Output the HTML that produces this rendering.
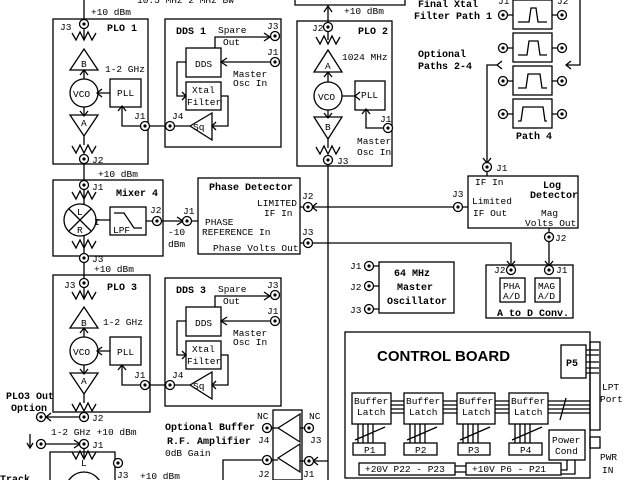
<!DOCTYPE html>
<html><head><meta charset="utf-8"><style>
html,body{margin:0;padding:0;background:#fff;width:640px;height:480px;overflow:hidden;}
svg{display:block;overflow:hidden;}
text{font-family:"Liberation Mono",monospace;font-size:9.5px;fill:#000;}
.b{font-weight:bold;font-size:10px;}
</style></head><body>
<svg width="640" height="480" viewBox="0 0 640 480" xmlns="http://www.w3.org/2000/svg">
<defs>
<g id="cn"><circle r="4.5" fill="#fff" stroke="#000" stroke-width="1.3"/><circle r="1.6" fill="#000"/></g>
<polyline id="zz" points="-12,-3 -8,4 -4,-4 0,4 4,-4 8,4 12,-3" fill="none" stroke="#000" stroke-width="1.3"/>
</defs>
<g fill="none" stroke="#000" stroke-width="1.3">
<path d="M295,0 V5 H405 V0"/>
<rect x="53" y="19" width="95" height="145"/>
<path d="M84,0 V20 M84,28 V40 M70,70 L84,49 L98,70 Z M84,70 V79 M84,107 V115 M70,115 L98,115 L84,136 Z M84,136 V145 M84,163 V181"/>
<circle cx="84" cy="93" r="14"/>
<rect x="110" y="79" width="31" height="28"/>
<path d="M110,93 H98 M122,107 V126 H141 M149,126 H166"/>
<rect x="165" y="19" width="116" height="128"/>
<rect x="186" y="48" width="35" height="29"/>
<rect x="186" y="82" width="35" height="28"/>
<path d="M190,126 L212,113 L212,140 Z M174,126 H190 M215,48 V37 H270 M271,62 H221 M186,62 H177 V96 H186 M221,96 H228 V126 H212"/>
<rect x="297" y="21" width="95" height="145"/>
<path d="M328,5 V23 M328,31 V40 M314,72 L328,50 L342,72 Z M328,72 V82 M328,110 V117 M314,117 L342,117 L328,139 Z M328,139 V148 M328,164 V480"/>
<circle cx="328" cy="96" r="14"/>
<rect x="355" y="81" width="30" height="29"/>
<path d="M355,96 H342 M366,110 V128 H384"/>
<rect x="513" y="0" width="39" height="29"/><rect x="513" y="33" width="39" height="29"/>
<rect x="513" y="66" width="39" height="29"/><rect x="513" y="99" width="39" height="29"/>
<path d="M518,22 H529 L531,8 H536 L538,22 H547 M518,55 H527 L529,41 H538 L540,55 H547 M518,88 H526 L528,74 H540 L542,88 H547 M518,121 H521 L523,107 H543 L545,121 H547"/>
<path d="M507,15 H513 M552,15 H558 M507,48 H513 M552,48 H558 M507,81 H513 M552,81 H558 M507,114 H513 M552,114 H558"/>
<path d="M580,0 V65 H566 M487,163 V65 H498"/>
<rect x="468" y="176" width="110" height="52"/>
<path d="M487,171 V176 M312,207 H453 M462,207 H468 M549,228 V233 M549,241 V266 M312,243 H511 V266"/>
<rect x="198" y="178" width="102" height="76"/>
<path d="M300,207 H304 M300,243 H304 M191,221 H198"/>
<rect x="53" y="180" width="110" height="76"/>
<circle cx="80" cy="220" r="16"/>
<path d="M69,209 L91,231 M91,209 L69,231 M96,220 H110 M146,221 H153 M161,221 H183 M84,190 V204 M84,236 V254 M84,262 V279"/>
<rect x="110" y="207" width="36" height="28"/>
<path d="M114,213 H124 L134,228 H142"/>
<rect x="53" y="275" width="97" height="137"/>
<path d="M84,287 V298 M70,328 L84,307 L98,328 Z M84,328 V337 M84,365 V373 M70,373 L98,373 L84,394 Z M84,394 V403 M80,417 H46"/>
<circle cx="84" cy="351" r="14"/>
<rect x="110" y="337" width="31" height="28"/>
<path d="M110,351 H98 M122,365 V385 H141 M149,385 H166"/>
<rect x="165" y="278" width="116" height="128"/>
<rect x="186" y="307" width="35" height="29"/>
<rect x="186" y="341" width="35" height="28"/>
<path d="M190,385 L212,372 L212,399 Z M174,385 H190 M215,307 V296 H270 M271,321 H221 M186,321 H177 V355 H186 M221,355 H228 V385 H212"/>
<path d="M30,434 V447 M46,444 H80 M84,448 V458"/>
<path d="M50,480 V452 H115 V480"/>
<circle cx="84" cy="490" r="18"/>
<rect x="273" y="410" width="29" height="70"/>
<path d="M278,428 L300,414 L300,442 Z M278,458 L300,444 L300,472 Z M271,428 H278 M300,428 H305 M271,460 H278 M300,461 H305 M313,461 H328 M262,460 H223 V480"/>
<rect x="379" y="262" width="75" height="51"/>
<path d="M373,266 H379 M373,286 H379 M373,309 H379"/>
<rect x="486" y="265" width="87" height="53"/>
<rect x="500" y="278" width="25" height="24"/><rect x="535" y="278" width="25" height="24"/>
<rect x="345" y="332" width="245" height="146"/>
<rect x="561" y="345" width="25" height="33"/>
<path d="M586,350 H599 M586,355 H599 M586,362 H599 M586,368 H599 M586,373 H599"/>
<rect x="590" y="342" width="10" height="88"/>
<rect x="590" y="437" width="10" height="11"/>
<rect x="352" y="393" width="39" height="31"/><rect x="404" y="393" width="39" height="31"/>
<rect x="457" y="393" width="38" height="31"/><rect x="509" y="393" width="39" height="31"/>
<path d="M391,401 H404 M391,405 H404 M391,409 H404 M391,413 H404 M443,401 H457 M443,405 H457 M443,409 H457 M443,413 H457 M495,401 H509 M495,405 H509 M495,409 H509 M495,413 H509 M548,401 H590 M548,405 H590 M548,409 H590 M548,413 H590 M566,398 L560,420"/>
<path d="M358,424 V443 M363,424 V443 M368,424 V443 M373,424 V443 M355,440 L385,427 M410,424 V443 M415,424 V443 M420,424 V443 M425,424 V443 M407,440 L437,427 M463,424 V443 M468,424 V443 M473,424 V443 M478,424 V443 M460,440 L490,427 M515,424 V443 M520,424 V443 M525,424 V443 M530,424 V443 M512,440 L542,427"/>
<rect x="353" y="443" width="32" height="12"/><rect x="404" y="443" width="33" height="12"/>
<rect x="458" y="443" width="32" height="12"/><rect x="509" y="443" width="33" height="12"/>
<rect x="549" y="430" width="36" height="30"/>
<rect x="359" y="463" width="96" height="12"/><rect x="466" y="463" width="95" height="12"/>
<path d="M455,466 H466 M455,472 H466 M561,470 H567 V460 M561,474 H575 V460"/>
</g>
<use href="#zz" x="84" y="36"/><use href="#zz" x="84" y="149"/>
<use href="#zz" x="84" y="195"/><use href="#zz" x="84" y="244"/>
<use href="#zz" x="328" y="40"/><use href="#zz" x="328" y="150"/>
<use href="#zz" x="84" y="295"/><use href="#zz" x="84" y="407"/>
<use href="#zz" x="84" y="455"/>
<g fill="none" stroke="#000" stroke-width="1.3">
<path d="M264,33 L270,37 L264,41 M227,58 L221,62 L227,66 M182,92 L186,96 L182,100 M216,122 L212,126 L216,130 M118,111 L122,106 L126,111 M102,89 L97,93 L102,97 M80,75 L84,70 L88,75 M80,111 L84,116 L88,111 M80,25 L84,20 L88,25"/>
<path d="M264,292 L270,296 L264,300 M227,317 L221,321 L227,325 M182,351 L186,355 L182,359 M216,381 L212,385 L216,389 M118,370 L122,365 L126,370 M102,347 L97,351 L102,355 M80,333 L84,328 L88,333 M80,369 L84,374 L88,369 M80,284 L84,279 L88,284"/>
<path d="M324,12 L328,6 L332,12 M370,114 L366,109 L362,114 M324,77 L328,72 L332,77 M324,113 L328,118 L332,113 M360,92 L355,96 L360,100"/>
<path d="M571,61 L566,65 L571,69 M502,61 L497,65 L502,69 M483,158 L487,163 L491,158 M317,203 L312,207 L317,211 M507,261 L511,266 L515,261 M545,261 L549,266 L553,261 M177,217 L183,221 L177,225 M51,413 L46,417 L51,421 M27,443 L30,448 L33,443 M74,440 L80,444 L74,448 M318,457 L313,461 L318,465"/>
</g>
<g>
<use href="#cn" x="84" y="24"/><use href="#cn" x="84" y="159"/><use href="#cn" x="145" y="126"/><use href="#cn" x="170" y="126"/>
<use href="#cn" x="275" y="36"/><use href="#cn" x="275" y="62"/>
<use href="#cn" x="328" y="27"/><use href="#cn" x="328" y="160"/><use href="#cn" x="388" y="128"/>
<use href="#cn" x="503" y="15"/><use href="#cn" x="562" y="15"/><use href="#cn" x="503" y="48"/><use href="#cn" x="562" y="48"/>
<use href="#cn" x="503" y="81"/><use href="#cn" x="562" y="81"/><use href="#cn" x="503" y="114"/><use href="#cn" x="562" y="114"/>
<use href="#cn" x="487" y="167"/><use href="#cn" x="458" y="207"/><use href="#cn" x="549" y="237"/>
<use href="#cn" x="308" y="207"/><use href="#cn" x="308" y="243"/><use href="#cn" x="187" y="221"/>
<use href="#cn" x="84" y="185"/><use href="#cn" x="157" y="221"/><use href="#cn" x="84" y="258"/>
<use href="#cn" x="84" y="283"/><use href="#cn" x="84" y="417"/><use href="#cn" x="145" y="385"/><use href="#cn" x="170" y="385"/>
<use href="#cn" x="275" y="295"/><use href="#cn" x="275" y="321"/>
<use href="#cn" x="41" y="417"/><use href="#cn" x="41" y="444"/><use href="#cn" x="84" y="444"/><use href="#cn" x="118" y="463"/>
<use href="#cn" x="267" y="428"/><use href="#cn" x="309" y="428"/><use href="#cn" x="267" y="460"/><use href="#cn" x="309" y="461"/>
<use href="#cn" x="369" y="266"/><use href="#cn" x="369" y="286"/><use href="#cn" x="369" y="309"/>
<use href="#cn" x="511" y="270"/><use href="#cn" x="549" y="270"/>
</g>
<text x="137" y="3">10.5 MHz 2 MHz BW</text>
<text x="91" y="15">+10 dBm</text>
<text x="60" y="30">J3</text><text class="b" x="107" y="31">PLO 1</text>
<text x="81" y="67">B</text><text x="105" y="72">1-2 GHz</text>
<text x="73" y="97">VCO</text><text x="117" y="96">PLL</text>
<text x="81" y="126">A</text><text x="134" y="119">J1</text><text x="172" y="119">J4</text>
<text x="92" y="163">J2</text><text x="98" y="177">+10 dBm</text>
<text class="b" x="176" y="34">DDS 1</text><text x="218" y="33">Spare</text><text x="223" y="45">Out</text>
<text x="267" y="29">J3</text><text x="267" y="55">J1</text>
<text x="195" y="67">DDS</text><text x="192" y="93">Xtal</text><text x="187" y="105">Filter</text>
<text x="233" y="77">Master</text><text x="233" y="86">Osc In</text><text x="193" y="130">Sq</text>
<text x="312" y="31">J2</text><text class="b" x="358" y="34">PLO 2</text><text x="342" y="60">1024 MHz</text><text x="344" y="14">+10 dBm</text>
<text x="325" y="69">A</text><text x="318" y="100">VCO</text><text x="361" y="98">PLL</text>
<text x="325" y="130">B</text><text x="380" y="122">J1</text><text x="357" y="144">Master</text><text x="357" y="155">Osc In</text>
<text x="337" y="164">J3</text>
<text class="b" x="418" y="7">Final Xtal</text><text class="b" x="414" y="19">Filter  Path 1</text>
<text class="b" x="418" y="57">Optional</text><text class="b" x="418" y="69">Paths 2-4</text>
<text x="498" y="4">J1</text><text x="557" y="4">J2</text><text class="b" x="516" y="139">Path 4</text>
<text x="496" y="171">J1</text><text x="475" y="185">IF In</text>
<text class="b" x="543" y="188">Log</text><text class="b" x="530" y="198">Detector</text>
<text x="452" y="197">J3</text><text x="472" y="204">Limited</text><text x="473" y="216">IF Out</text>
<text x="541" y="216">Mag</text><text x="525" y="226">Volts Out</text><text x="555" y="241">J2</text>
<text class="b" x="209" y="190">Phase Detector</text><text x="257" y="206">LIMITED</text><text x="264" y="216">IF In</text>
<text x="205" y="225">PHASE</text><text x="202" y="235">REFERENCE In</text><text x="213" y="251">Phase Volts Out</text>
<text x="302" y="199">J2</text><text x="302" y="235">J3</text><text x="183" y="214">J1</text>
<text x="92" y="190">J1</text><text class="b" x="116" y="196">Mixer 4</text>
<text x="77" y="215">L</text><text x="77" y="233">R</text><text x="94" y="225">I</text>
<text x="113" y="233">LPF</text><text x="150" y="213">J2</text><text x="168" y="235">-10</text><text x="168" y="247">dBm</text>
<text x="92" y="262">J3</text><text x="94" y="272">+10 dBm</text>
<text x="64" y="288">J3</text><text class="b" x="107" y="290">PLO 3</text>
<text x="81" y="326">B</text><text x="103" y="325">1-2 GHz</text>
<text x="73" y="355">VCO</text><text x="117" y="355">PLL</text>
<text x="81" y="384">A</text><text x="134" y="378">J1</text><text x="172" y="378">J4</text>
<text x="92" y="421">J2</text>
<text class="b" x="176" y="293">DDS 3</text><text x="218" y="292">Spare</text><text x="223" y="304">Out</text>
<text x="267" y="288">J3</text><text x="267" y="314">J1</text>
<text x="195" y="326">DDS</text><text x="192" y="352">Xtal</text><text x="187" y="364">Filter</text>
<text x="233" y="336">Master</text><text x="233" y="345">Osc In</text><text x="193" y="389">Sq</text>
<text class="b" x="6" y="399">PLO3 Out</text><text class="b" x="11" y="411">Option</text>
<text x="51" y="435">1-2 GHz  +10 dBm</text><text x="92" y="448">J1</text>
<text x="81" y="466">L</text><text x="117" y="478">J3</text><text x="140" y="479">+10 dBm</text>
<text class="b" x="0" y="482">Track</text>
<text class="b" x="165" y="430">Optional Buffer</text><text class="b" x="167" y="444">R.F. Amplifier</text><text x="165" y="456">0dB Gain</text>
<text x="257" y="419">NC</text><text x="309" y="419">NC</text><text x="258" y="443">J4</text><text x="310" y="443">J3</text>
<text x="258" y="477">J2</text><text x="303" y="477">J1</text>
<text x="350" y="269">J1</text><text x="350" y="290">J2</text><text x="350" y="313">J3</text>
<text class="b" x="394" y="276">64 MHz</text><text class="b" x="397" y="290">Master</text><text class="b" x="387" y="304">Oscillator</text>
<text x="494" y="273">J2</text><text x="556" y="273">J1</text>
<text x="503" y="289">PHA</text><text x="503" y="299">A/D</text>
<text x="538" y="289">MAG</text><text x="538" y="299">A/D</text>
<text class="b" x="497" y="316">A to D Conv.</text>
<text x="377" y="361" style="font-family:'Liberation Sans',sans-serif;font-size:15px;font-weight:bold">CONTROL  BOARD</text>
<text class="b" x="566" y="366">P5</text>
<text x="602" y="390">LPT</text><text x="600" y="402">Port</text><text x="600" y="460">PWR</text><text x="602" y="473">IN</text>
<text x="354" y="404">Buffer</text><text x="357" y="415">Latch</text><text x="406" y="404">Buffer</text><text x="409" y="415">Latch</text>
<text x="459" y="404">Buffer</text><text x="462" y="415">Latch</text><text x="511" y="404">Buffer</text><text x="514" y="415">Latch</text>
<text x="364" y="453">P1</text><text x="415" y="453">P2</text><text x="468" y="453">P3</text><text x="520" y="453">P4</text>
<text x="552" y="443">Power</text><text x="555" y="454">Cond</text>
<text x="365" y="472">+20V  P22 - P23</text><text x="472" y="472">+10V  P6 - P21</text>
</svg>
</body></html>
